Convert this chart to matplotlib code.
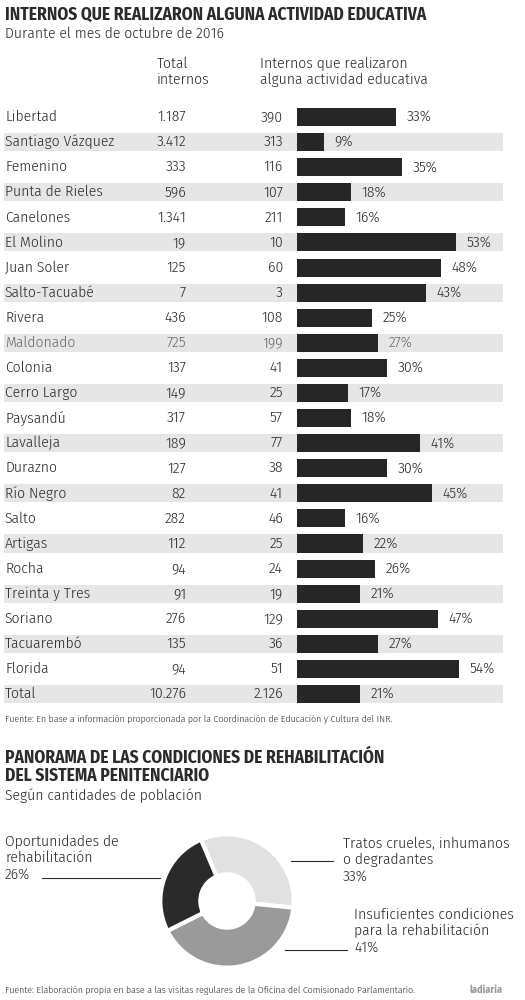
import matplotlib
matplotlib.use("Agg")
import matplotlib.pyplot as plt
from matplotlib.lines import Line2D
from matplotlib.transforms import blended_transform_factory

plt.rcParams['font.family'] = ['Fira Sans Condensed', 'DejaVu Sans']
plt.rcParams['font.weight'] = 300

# ---- data: table ----
prisons = ["Libertad", "Santiago Vázquez", "Femenino", "Punta de Rieles", "Canelones",
           "El Molino", "Juan Soler", "Salto-Tacuabé", "Rivera", "Maldonado", "Colonia",
           "Cerro Largo", "Paysandú", "Lavalleja", "Durazno", "Río Negro", "Salto",
           "Artigas", "Rocha", "Treinta y Tres", "Soriano", "Tacuarembó", "Florida", "Total"]
total_internos = [1187, 3412, 333, 596, 1341, 19, 125, 7, 436, 725, 137, 149, 317, 189,
                  127, 82, 282, 112, 94, 91, 276, 135, 94, 10276]
con_actividad = [390, 313, 116, 107, 211, 10, 60, 3, 108, 199, 41, 25, 57, 77, 38, 41,
                 46, 25, 24, 19, 129, 36, 51, 2126]
pct = [33, 9, 35, 18, 16, 53, 48, 43, 25, 27, 30, 17, 18, 41, 30, 45, 16, 22, 26, 21,
       47, 27, 54, 21]

# ---- data: donut ----
pie_labels = ["Tratos crueles, inhumanos\no degradantes",
              "Insuficientes condiciones\npara la rehabilitación",
              "Oportunidades de\nrehabilitación"]
pie_values = [33, 41, 26]
pie_colors = ["#e1e1e1", "#9a9a9a", "#2a2a2a"]

TXT = "#2b2b2b"
W, H = 525, 1000
FS = 11.2


def fx(px):
    return px / W


def fy(py):
    return 1 - py / H


def fmt(n):
    return f"{n:,}".replace(",", ".")


fig = plt.figure(figsize=(5.25, 10), dpi=100)
fig.patch.set_facecolor("white")

# titles
fig.text(fx(5), fy(15), "INTERNOS QUE REALIZARON ALGUNA ACTIVIDAD EDUCATIVA",
         fontsize=12.5, fontweight="bold", color=TXT, va="center")
fig.text(fx(5), fy(34), "Durante el mes de octubre de 2016", fontsize=FS, color=TXT, va="center")
fig.text(fx(157), fy(72), "Total\ninternos", fontsize=FS, color=TXT, va="center",
         linespacing=1.2)
fig.text(fx(260), fy(72), "Internos que realizaron\nalguna actividad educativa", fontsize=FS,
         color=TXT, va="center", linespacing=1.2)

# ---- table axes ----
n = len(prisons)
row_px = 25.09
top_px = 117 - row_px / 2
bot_px = top_px + n * row_px
bar0, scale = 297, 3.0  # bar origin px, px per percent
ax = fig.add_axes([fx(4), fy(bot_px), fx(503) - fx(4), (bot_px - top_px) / H])
ax.set_xlim((4 - bar0) / scale, (503 - bar0) / scale)
ax.set_ylim(n - 0.5, -0.5)
ax.axis("off")

rows = list(range(n))
for i in rows:
    if i % 2 == 1:
        ax.axhspan(i - 0.36, i + 0.36, color="#e6e6e6", lw=0, zorder=0)
ax.barh(rows, pct, height=0.72, color="#262626", zorder=2)

tr = blended_transform_factory(fig.transFigure, ax.transData)
for i in rows:
    c = "#6a6a6a" if prisons[i] == "Maldonado" else TXT
    ax.text(fx(5), i, prisons[i], transform=tr, fontsize=FS, color=c, va="center")
    ax.text(fx(186), i, fmt(total_internos[i]), transform=tr, fontsize=FS, color=c,
            va="center", ha="right")
    ax.text(fx(283), i, fmt(con_actividad[i]), transform=tr, fontsize=FS, color=c,
            va="center", ha="right")
    ax.text(pct[i] + 3.5, i, f"{pct[i]}%", fontsize=FS, color=c, va="center")

fig.text(fx(5), fy(719),
         "Fuente: En base a información proporcionada por la Coordinación de Educación y Cultura del INR.",
         fontsize=7.1, color=TXT, va="center")

# second block
fig.text(fx(5), fy(767), "PANORAMA DE LAS CONDICIONES DE REHABILITACIÓN\nDEL SISTEMA PENITENCIARIO",
         fontsize=12.5, fontweight="bold", color=TXT, va="center", linespacing=1.05)
fig.text(fx(5), fy(796), "Según cantidades de población", fontsize=FS, color=TXT, va="center")

# ---- donut ----
cx, cy, r = 227, 901, 68
pax = fig.add_axes([fx(cx - r), fy(cy + r), 2 * r / W, 2 * r / H])
pax.pie(pie_values, colors=pie_colors, startangle=113, counterclock=False,
        wedgeprops=dict(width=0.6, edgecolor="white", linewidth=3))
pax.set_xlim(-1.02, 1.02)
pax.set_ylim(-1.02, 1.02)
pax.set_aspect("equal")

fig.text(fx(343), fy(860), f"{pie_labels[0]}\n{pie_values[0]}%", fontsize=FS, color=TXT,
         va="center", linespacing=1.2)
fig.text(fx(354), fy(931), f"{pie_labels[1]}\n{pie_values[1]}%", fontsize=FS, color=TXT,
         va="center", linespacing=1.2)
fig.text(fx(5), fy(858), f"{pie_labels[2]}\n{pie_values[2]}%", fontsize=FS, color=TXT,
         va="center", linespacing=1.2)

for x0, x1, yy in [(291, 333, 861), (285, 347, 950), (42, 160, 878)]:
    fig.add_artist(Line2D([fx(x0), fx(x1)], [fy(yy), fy(yy)], color=TXT, lw=0.8))

fig.text(fx(5), fy(990),
         "Fuente: Elaboración propia en base a las visitas regulares de la Oficina del Comisionado Parlamentario.",
         fontsize=7.1, color=TXT, va="center")
fig.text(fx(503), fy(990), "ladiaria", fontsize=7.5, fontweight="bold", color="#9a9a9a",
         va="center", ha="right")

fig.savefig("out.png", dpi=100, facecolor="white")
